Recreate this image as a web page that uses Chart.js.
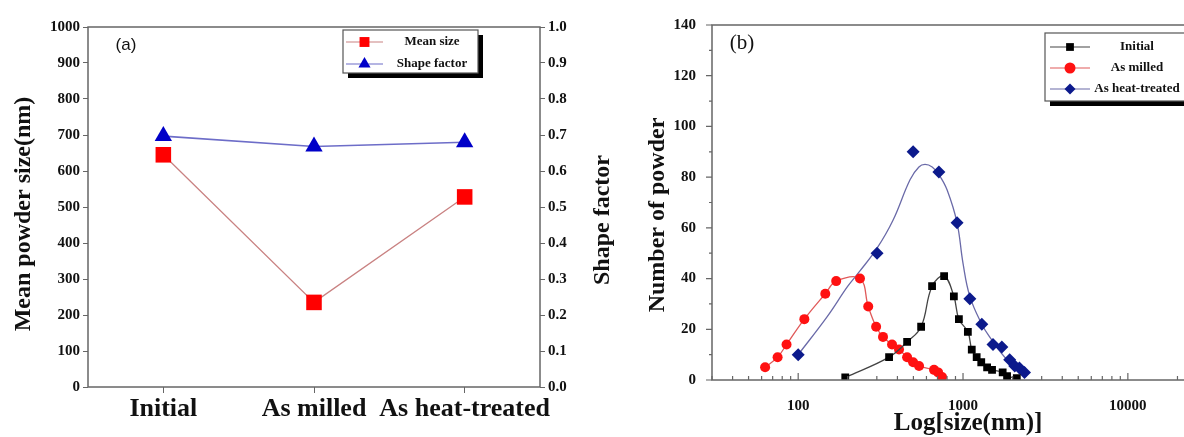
<!DOCTYPE html>
<html><head><meta charset="utf-8">
<script src="https://cdn.jsdelivr.net/npm/chart.js@4/dist/chart.umd.min.js"></script>
<style>
html,body{margin:0;padding:0;background:#fff;overflow:hidden}
body{width:1184px;height:437px;position:relative}
canvas{position:absolute;top:0}
#ca{left:0}
#cb{left:615px}
</style></head><body>
<canvas id="ca" width="620" height="437"></canvas>
<canvas id="cb" width="598" height="437"></canvas>
<script>
// (a) mean size / shape factor
const categories=['Initial','As milled','As heat-treated'];
const meanSize=[645,235,528];
const shapeFactor=[0.697,0.668,0.680];

// (b) size distribution, x = size (nm), y = count
const initialSize=[193,356,458,557,649,768,880,944,1070,1130,1210,1290,1400,1500,1740,1850,2120];
const initialCount=[1,9,15,21,37,41,33,24,19,12,9,7,5,4,3,1.5,0.7];
const milledSize=[63,75,85,109,146,170,237,266,297,327,371,409,458,498,541,667,706,746];
const milledCount=[5,9,14,24,34,39,40,29,21,17,14,12,9,7,5.5,4,3,1.2];
const heatSize=[100,301,498,714,920,1100,1300,1520,1720,1920,2060,2200,2360];
const heatCount=[10,50,90,82,62,32,22,14,13,8,5.5,4.7,3];
const heatFitSize=[100,150,200,237,301,376,477,540,588,650,714,800,920,1000,1100,1300,1450,1850,2440];
const heatFitCount=[10,25,37,43,52,63,79,84,85,84,81,75,62,46,33,22,17,8,1.5];
const sizeLabels=[100,1000,10000];

const pts=(xs,ys)=>xs.map((v,i)=>({x:v,y:ys[i]}));
const serif='"Liberation Serif", "Times New Roman", serif';
Chart.defaults.font.family=serif;
Chart.defaults.color='#111';

const frame={id:'frame',afterDraw(c){
 const {ctx,chartArea:r}=c;
 ctx.save();ctx.strokeStyle='#666';ctx.lineWidth=1.5;
 ctx.strokeRect(r.left,r.top,r.right-r.left,r.bottom-r.top);
 ctx.restore();
}};

const texts={id:'texts',afterDraw(c,a,o){
 const ctx=c.ctx;
 (o.items||[]).forEach(t=>{
  ctx.save();ctx.translate(t.x,t.y);ctx.rotate(t.rot||0);
  ctx.font=t.font;ctx.fillStyle='#111';ctx.textAlign='center';ctx.textBaseline='middle';
  ctx.fillText(t.text,0,0);ctx.restore();
 });
}};

const boxLegend={id:'boxLegend',afterDraw(c,a,o){
 if(!o.items) return;
 const ctx=c.ctx;
 ctx.save();
 ctx.fillStyle='#000';ctx.fillRect(o.x+5,o.y+5,o.w,o.h);
 ctx.fillStyle='#fff';ctx.fillRect(o.x,o.y,o.w,o.h);
 ctx.strokeStyle='#555';ctx.lineWidth=1.2;ctx.strokeRect(o.x,o.y,o.w,o.h);
 o.items.forEach((i,k)=>{
  const ds=c.data.datasets[i],yy=o.y+o.top+k*o.gap;
  ctx.strokeStyle=ds.borderColor;ctx.lineWidth=1.2;
  ctx.beginPath();ctx.moveTo(o.x+o.l0,yy);ctx.lineTo(o.x+o.l1,yy);ctx.stroke();
  ctx.fillStyle=ds.pointBackgroundColor;ctx.strokeStyle=ds.pointBackgroundColor;
  Chart.helpers.drawPoint(ctx,{pointStyle:ds.pointStyle,radius:o.r,rotation:0,borderWidth:0},o.x+(o.l0+o.l1)/2,yy);
  ctx.font=o.font;ctx.fillStyle='#111';ctx.textAlign='center';ctx.textBaseline='middle';
  ctx.fillText(ds.label,o.x+o.tx,yy);
 });
 ctx.restore();
}};

const logTicks={id:'logTicks',afterDraw(c){
 const {ctx,chartArea:r,scales:{x,y}}=c;
 ctx.save();ctx.strokeStyle='#666';ctx.lineWidth=1.2;ctx.beginPath();
 for(let e=1;e<=4;e++)for(let k=1;k<10;k++){
  const v=k*Math.pow(10,e);
  if(v<x.min||v>x.max) continue;
  const px=x.getPixelForValue(v),L=k===1?7:4;
  ctx.moveTo(px,r.bottom);ctx.lineTo(px,r.bottom-L);
 }
 for(let v=0;v<=140;v+=10){
  const py=y.getPixelForValue(v),L=v%20?3:6;
  ctx.moveTo(r.left,py);ctx.lineTo(r.left-L,py);
 }
 ctx.stroke();ctx.restore();
}};

const tickFont={size:15,weight:'bold'};
const fitX=h=>s=>{s.height=h;s.paddingLeft=0;s.paddingRight=0};

new Chart(document.getElementById('ca'),{
 type:'line',
 data:{labels:categories,datasets:[
  {label:'Mean size',data:meanSize,yAxisID:'y',borderColor:'#c98282',borderWidth:1.3,tension:0,
   pointStyle:'rect',pointRadius:11,pointBackgroundColor:'#ff0000',pointBorderColor:'#ff0000',pointBorderWidth:0},
  {label:'Shape factor',data:shapeFactor,yAxisID:'y2',borderColor:'#6d6dc8',borderWidth:1.6,tension:0,
   pointStyle:'triangle',pointRadius:10,pointBackgroundColor:'#0000c8',pointBorderColor:'#0000c8',pointBorderWidth:0}
 ]},
 options:{responsive:false,animation:false,layout:{padding:{top:27,left:0,right:0,bottom:0}},
  plugins:{legend:{display:false},tooltip:{enabled:false},
   boxLegend:{x:343,y:30,w:135,h:43,top:12,gap:22,l0:3,l1:40,r:7,tx:89,font:'bold 13px '+serif,items:[0,1]},
   texts:{items:[
    {text:'Mean powder size(nm)',x:24,y:214,rot:-Math.PI/2,font:'bold 24px '+serif},
    {text:'Shape factor',x:603,y:220,rot:-Math.PI/2,font:'bold 24px '+serif},
    {text:'(a)',x:126,y:45,font:'17px "Liberation Sans", Arial, sans-serif'}
   ]}},
  scales:{
   x:{offset:true,grid:{drawOnChartArea:false,tickLength:6,color:'#666'},border:{display:false},
    ticks:{font:{size:26,weight:'bold'},padding:1,maxRotation:0,autoSkip:false},afterFit:fitX(50)},
   y:{position:'left',min:0,max:1000,grid:{drawOnChartArea:false,tickLength:5,color:'#666'},border:{display:false},
    ticks:{stepSize:100,font:tickFont,padding:3,callback:v=>String(v)},afterFit:s=>{s.width=88}},
   y2:{position:'right',min:0,max:1,grid:{drawOnChartArea:false,tickLength:5,color:'#666'},border:{display:false},
    ticks:{stepSize:0.1,font:tickFont,padding:3,callback:v=>v.toFixed(1)},afterFit:s=>{s.width=80}}
  }},
 plugins:[frame,texts,boxLegend]
});

new Chart(document.getElementById('cb'),{
 type:'line',
 data:{datasets:[
  {label:'Initial',data:pts(initialSize,initialCount),borderColor:'#444',borderWidth:1.3,tension:0.4,
   pointStyle:'rect',pointRadius:5.5,pointBackgroundColor:'#000',pointBorderWidth:0},
  {label:'As milled',data:pts(milledSize,milledCount),borderColor:'#e05a5a',borderWidth:1.3,tension:0.4,
   pointStyle:'circle',pointRadius:5,pointBackgroundColor:'#ff1111',pointBorderWidth:0},
  {label:'As heat-treated',data:pts(heatSize,heatCount),borderColor:'#6a6aa8',showLine:false,
   pointStyle:'rectRot',pointRadius:6.5,pointBackgroundColor:'#0c1a8c',pointBorderWidth:0},
  {label:'',data:pts(heatFitSize,heatFitCount),borderColor:'#6a6aa8',borderWidth:1.3,tension:0.4,pointRadius:0}
 ]},
 options:{responsive:false,animation:false,layout:{padding:{top:25,left:0,right:0,bottom:0}},
  plugins:{legend:{display:false},tooltip:{enabled:false},
   boxLegend:{x:430,y:33,w:160,h:68,top:14,gap:21,l0:5,l1:45,r:5.5,tx:92,font:'bold 13px '+serif,items:[0,1,2]},
   texts:{items:[
    {text:'Number of powder',x:43,y:215,rot:-Math.PI/2,font:'bold 24px '+serif},
    {text:'Log[size(nm)]',x:353,y:424,font:'bold 25px '+serif},
    {text:'(b)',x:127,y:43,font:'21px '+serif}
   ]}},
  scales:{
   x:{type:'logarithmic',min:30,max:30000,grid:{display:false},border:{display:false},
    ticks:{autoSkip:false,maxRotation:0,font:tickFont,padding:9,
     callback:v=>sizeLabels.some(s=>Math.abs(s-v)<1e-6)?String(Math.round(v)):''},
    afterFit:fitX(57)},
   y:{min:0,max:140,grid:{display:false},border:{display:false},
    ticks:{stepSize:20,font:tickFont,padding:8},afterFit:s=>{s.width=97}}
  }},
 plugins:[frame,logTicks,texts,boxLegend]
});
</script>
</body></html>
